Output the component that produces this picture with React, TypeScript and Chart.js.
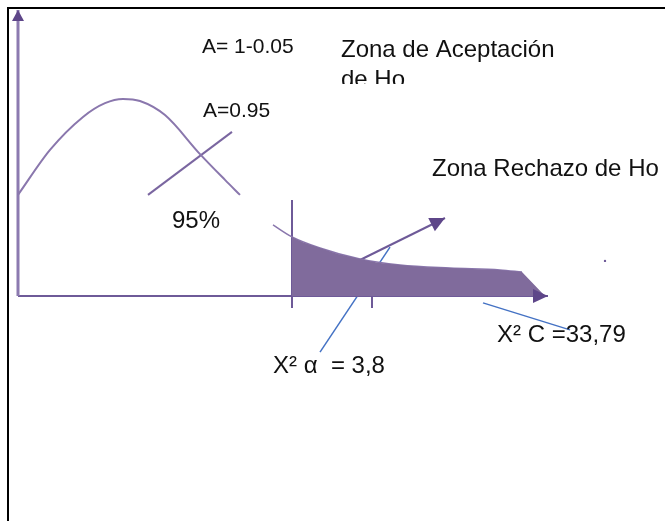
import { useEffect, useRef } from "react";
import { Chart, registerables } from "chart.js";

Chart.register(...registerables);

// Diagram units: x = distance along the χ² axis from the origin, y = height above the axis
const bellX = [0, 6.4, 13, 17.4, 21, 24.4, 29.4, 36.4, 41.4, 44.4];
const bellY = [33.7, 48.7, 59.7, 64.3, 65.7, 65, 60.3, 47.3, 38.7, 33.7];
const tailX = [51, 54.8, 60.4, 68.4, 76.4, 86.4, 96.4, 100.8];
const tailY = [23.7, 19.7, 16, 12.3, 10.3, 9.3, 8.7, 8];
const rejectX = [54.8, 57, 60.4, 64, 68.4, 72, 76.4, 81, 86.4, 91, 96.4, 100.8, 105.4];
const rejectY = [19.7, 17.9, 16, 14, 12.3, 11.1, 10.3, 9.7, 9.3, 9, 8.7, 8, 0];
const yAxisX = [0, 0];
const yAxisY = [0, 95.3];
const xAxisX = [0, 106];
const xAxisY = [0, 0];
const critX = [54.8, 54.8];
const critY = [32, -4];
const alphaInX = [70.8, 70.8];
const alphaInY = [7.7, 0];
const alphaOutX = [70.8, 70.8];
const alphaOutY = [0, -4];
const pointerAX = [26, 42.8];
const pointerAY = [33.7, 54.7];
const rejectDotX = [63, 68.4];
const rejectDotY = [7, 12];
const rejectArrowX = [68.4, 85.4];
const rejectArrowY = [12, 26];
const blueAlphaX = [60.4, 74.4];
const blueAlphaY = [-18.7, 16.3];
const blueCX = [93, 110.4];
const blueCY = [-2.3, -11.3];
const dotX = [117.4];
const dotY = [11.7];

const labelTexts = [
  "A= 1-0.05",
  "Zona de Aceptación",
  "de Ho",
  "A=0.95",
  "Zona Rechazo de Ho",
  "95%",
  "X² C =33,79",
  "X² α  = 3,8",
];
const labelAnchorX = [36.8, 64.6, 64.6, 37, 82.8, 30.8, 95.8, 51];
const labelAnchorY = [81, 79.7, 69.7, 59.7, 40, 22.7, -15.3, -25.7];

const labelStyle = [
  { size: 21, sx: 1 },
  { size: 24, sx: 1 },
  { size: 24, sx: 1, clipY: 70.7 },
  { size: 21, sx: 1 },
  { size: 24, sx: 1 },
  { size: 24, sx: 1 },
  { size: 24, sx: 1 },
  { size: 24, sx: 1 },
];

const pts = (xs: number[], ys: number[]) => xs.map((x, i) => ({ x, y: ys[i] }));

const PURPLE = "#6e5a98";
const LIGHT = "#8a77ad";

const arrowPlugin = {
  id: "arrowHeads",
  afterDatasetsDraw(chart: any) {
    const ctx = chart.ctx;
    chart.data.datasets.forEach((ds: any, i: number) => {
      const head = ds.arrowHead;
      if (!head) return;
      const meta = chart.getDatasetMeta(i);
      const n = meta.data.length;
      const a = meta.data[n - 2];
      const b = meta.data[n - 1];
      const ang = Math.atan2(b.y - a.y, b.x - a.x);
      ctx.save();
      ctx.translate(b.x, b.y);
      ctx.rotate(ang);
      ctx.beginPath();
      ctx.moveTo(0, 0);
      ctx.lineTo(-head.len, -head.half);
      ctx.lineTo(-head.len, head.half);
      ctx.closePath();
      ctx.fillStyle = head.color;
      ctx.fill();
      ctx.restore();
    });
  },
};

const textPlugin = {
  id: "diagramText",
  afterDraw(chart: any) {
    const ctx = chart.ctx;
    const xs = chart.scales.x;
    const ys = chart.scales.y;
    labelTexts.forEach((t, i) => {
      const st: any = labelStyle[i];
      const px = xs.getPixelForValue(labelAnchorX[i]);
      const py = ys.getPixelForValue(labelAnchorY[i]);
      ctx.save();
      if (st.clipY !== undefined) {
        const cy = ys.getPixelForValue(st.clipY);
        ctx.beginPath();
        ctx.rect(0, 0, chart.width, cy);
        ctx.clip();
      }
      ctx.translate(px, py);
      ctx.scale(st.sx, 1);
      ctx.font = `${st.size}px "Liberation Sans", Arial, sans-serif`;
      ctx.fillStyle = "#111";
      ctx.textBaseline = "alphabetic";
      ctx.textAlign = "left";
      ctx.fillText(t, 0, 0);
      ctx.restore();
    });
  },
};

const line = (data: any, color: string, width: number, extra: any = {}) => ({
  data,
  borderColor: color,
  borderWidth: width,
  pointRadius: 0,
  pointHoverRadius: 0,
  fill: false,
  tension: 0,
  ...extra,
});

export default function App() {
  const ref = useRef<HTMLCanvasElement | null>(null);

  useEffect(() => {
    if (!ref.current) return;
    const chart = new Chart(ref.current, {
      type: "line",
      data: {
        datasets: [
          {
            data: pts(rejectX, rejectY),
            borderWidth: 0,
            borderColor: "rgba(0,0,0,0)",
            backgroundColor: "#806b9c",
            fill: "origin",
            pointRadius: 0,
            pointHoverRadius: 0,
            tension: 0,
          } as any,
          line(pts(bellX, bellY), LIGHT, 2, { cubicInterpolationMode: "monotone" }),
          line(pts(pointerAX, pointerAY), "#7a66a0", 2),
          line(pts(tailX, tailY), LIGHT, 1.5, { cubicInterpolationMode: "monotone" }),
          line(pts(yAxisX, yAxisY), "#8c7ab0", 3, { arrowHead: { len: 11, half: 6, color: "#5e4689" } }),
          line(pts(xAxisX, xAxisY), PURPLE, 2, { arrowHead: { len: 15, half: 7, color: "#5e4689" } }),
          line(pts(critX, critY), PURPLE, 2),
          line(pts(alphaInX, alphaInY), "#e6e1ee", 2),
          line(pts(alphaOutX, alphaOutY), PURPLE, 2),
          line(pts(rejectDotX, rejectDotY), "#f2eef7", 2, { borderDash: [2, 2] }),
          line(pts(rejectArrowX, rejectArrowY), PURPLE, 2, { arrowHead: { len: 15, half: 7.5, color: "#5e4689" } }),
          line(pts(blueAlphaX, blueAlphaY), "#4472c4", 1.5),
          line(pts(blueCX, blueCY), "#4472c4", 1.5),
          {
            data: pts(dotX, dotY),
            pointRadius: 1.2,
            pointHoverRadius: 0,
            pointBackgroundColor: PURPLE,
            pointBorderWidth: 0,
            showLine: false,
          } as any,
        ],
      },
      options: {
        animation: false,
        responsive: false,
        maintainAspectRatio: false,
        layout: { padding: 0, autoPadding: false },
        plugins: { legend: { display: false }, tooltip: { enabled: false } },
        events: [],
        scales: {
          x: { type: "linear", display: false, min: -3.6, max: 129.4 },
          y: { type: "linear", display: false, min: -75, max: 98.667 },
        },
      },
      plugins: [arrowPlugin, textPlugin],
    });
    return () => chart.destroy();
  }, []);

  return (
    <div
      style={{
        position: "fixed",
        left: 0,
        top: 0,
        width: 665,
        height: 521,
        overflow: "hidden",
        background: "#fff",
      }}
    >
      <canvas ref={ref} width={665} height={521} style={{ position: "absolute", left: 0, top: 0 }} />
      <div
        style={{
          position: "absolute",
          left: 7,
          top: 7,
          width: 700,
          height: 600,
          borderLeft: "2px solid #000",
          borderTop: "2px solid #000",
          pointerEvents: "none",
        }}
      />
    </div>
  );
}
